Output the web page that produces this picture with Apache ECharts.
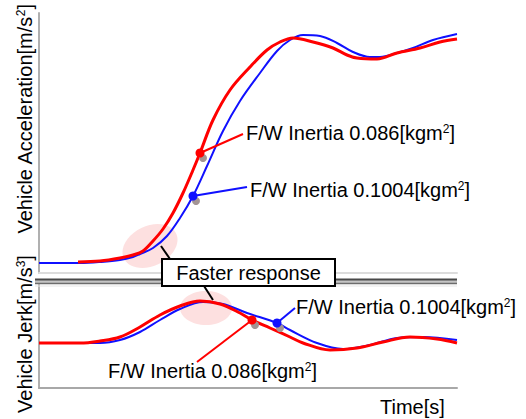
<!DOCTYPE html>
<html>
<head>
<meta charset="utf-8">
<script src="https://cdn.jsdelivr.net/npm/echarts@6/dist/echarts.min.js"></script>
<style>
html, body { margin: 0; padding: 0; background: #fff; }
#chart { width: 526px; height: 419px; }
</style>
</head>
<body>
<div id="chart"></div>
<script>
// time [s] and vehicle acceleration
var accelTimeRed = [0.39, 0.61, 0.81, 0.94, 1.04, 1.14, 1.24, 1.34, 1.44, 1.54, 1.61, 1.74, 1.91, 2.11, 2.28, 2.41, 2.54, 2.74, 2.94, 3.08, 3.18, 3.38, 3.58, 3.81, 4.01, 4.18];
var accelRed     = [0.11, 0.12, 0.15, 0.18, 0.22, 0.32, 0.44, 0.60, 0.80, 1.03, 1.20, 1.53, 1.83, 2.06, 2.23, 2.31, 2.35, 2.31, 2.25, 2.18, 2.15, 2.14, 2.20, 2.25, 2.31, 2.34];
var accelTimeBlue = [0, 0.41, 0.61, 0.81, 0.94, 1.01, 1.14, 1.28, 1.41, 1.54, 1.68, 1.84, 2.01, 2.21, 2.38, 2.51, 2.64, 2.81, 2.98, 3.14, 3.31, 3.41, 3.58, 3.74, 3.94, 4.18];
var accelBlue     = [0.10, 0.10, 0.11, 0.13, 0.16, 0.19, 0.25, 0.37, 0.55, 0.77, 1.07, 1.42, 1.72, 2.00, 2.22, 2.33, 2.38, 2.37, 2.30, 2.21, 2.16, 2.16, 2.20, 2.25, 2.33, 2.39];

// time [s] and vehicle jerk
var jerkTimeRed = [0, 0.41, 0.61, 0.81, 1.01, 1.21, 1.41, 1.61, 1.81, 2.01, 2.13, 2.31, 2.51, 2.64, 2.91, 3.18, 3.44, 3.71, 3.98, 4.18];
var jerkRed     = [0, 0, 0.2, 0.6, 1.6, 2.8, 3.7, 4.2, 3.9, 3.0, 2.3, 1.5, 0.6, 0, -0.7, -0.5, 0.1, 0.6, 0.4, 0];
var jerkTimeBlue = [0, 0.44, 0.61, 0.81, 1.01, 1.21, 1.41, 1.64, 1.84, 2.08, 2.38, 2.51, 2.78, 3.04, 3.31, 3.58, 3.84, 4.18];
var jerkBlue     = [0, 0, 0, 0.3, 1.1, 2.3, 3.4, 4.1, 3.9, 3.0, 2.0, 1.3, 0, -0.6, -0.2, 0.5, 0.6, 0.3];

var labelRed = 'F/W Inertia 0.086[kgm{sup|2}]';
var labelBlue = 'F/W Inertia 0.1004[kgm{sup|2}]';

var RED = '#ff0000';
var BLUE = '#1010ff';
var FONT = '"Liberation Sans", Arial, sans-serif';

function pairs(t, v) {
    return t.map(function (x, i) { return [x, v[i]]; });
}

function hiddenAxis(grid, min, max, line) {
    return {
        gridIndex: grid, type: 'value', min: min, max: max,
        axisLine: { show: !!line, onZero: false, lineStyle: line || {} },
        axisTick: { show: false }, axisLabel: { show: false }, splitLine: { show: false }
    };
}

function lineSeries(grid, data, color, width) {
    return {
        type: 'line', xAxisIndex: grid, yAxisIndex: grid, data: data,
        smooth: 0.35, showSymbol: false, silent: true,
        lineStyle: { color: color, width: width }
    };
}

var chart = echarts.init(document.getElementById('chart'), null, { renderer: 'svg' });

var option = {
    animation: false,
    backgroundColor: '#fff',
    textStyle: { fontFamily: FONT },
    grid: [
        { left: 39, right: 69, top: 13, height: 260 },
        { left: 39, right: 69, top: 285, height: 103 }
    ],
    xAxis: [
        hiddenAxis(0, 0, 4.18, { color: '#dcdcdc', width: 2 }),
        hiddenAxis(1, 0, 4.18, { color: '#a8a8a8', width: 2 })
    ],
    yAxis: [
        hiddenAxis(0, 0, 2.6, { color: '#b0b0b0', width: 2 }),
        hiddenAxis(1, -4.5, 5.8, { color: '#b0b0b0', width: 2 })
    ],
    series: [
        lineSeries(0, pairs(accelTimeBlue, accelBlue), BLUE, 2),
        lineSeries(0, pairs(accelTimeRed, accelRed), RED, 3),
        lineSeries(1, pairs(jerkTimeBlue, jerkBlue), BLUE, 2),
        lineSeries(1, pairs(jerkTimeRed, jerkRed), RED, 3)
    ]
};
chart.setOption(option);

// annotations: which point they mark, where the label sits
var notes = [
    { grid: 0, t: accelTimeRed[10], v: accelRed[10], color: RED, lx: 243, ly: 134, tx: 246, ty: 133, text: labelRed },
    { grid: 0, t: accelTimeBlue[9], v: accelBlue[9], color: BLUE, lx: 247, ly: 187, tx: 250, ty: 190, text: labelBlue },
    { grid: 1, t: jerkTimeRed[10], v: jerkRed[10], color: RED, lx: 197, ly: 362, tx: 108, ty: 371, text: labelRed },
    { grid: 1, t: jerkTimeBlue[10], v: jerkBlue[10], color: BLUE, lx: 295, ly: 308, tx: 296, ty: 307, text: labelBlue }
];

var supRich = { sup: { fontSize: 12, verticalAlign: 'top', fontFamily: FONT } };

var graphics = [];

// highlighted regions ("faster response")
var topSpot = chart.convertToPixel({ gridIndex: 0 }, [1.11, 0.27]);
var lowSpot = chart.convertToPixel({ gridIndex: 1 }, [1.67, 3.5]);
graphics.push({
    type: 'ellipse', x: topSpot[0], y: topSpot[1], rotation: 0.45, z: 0,
    shape: { cx: 0, cy: 0, rx: 29, ry: 20 }, style: { fill: 'rgba(250,165,165,0.35)' }
});
graphics.push({
    type: 'ellipse', z: 0,
    shape: { cx: lowSpot[0], cy: lowSpot[1], rx: 26, ry: 17 }, style: { fill: 'rgba(250,165,165,0.35)' }
});

// separator between the two panels
graphics.push({ type: 'rect', z: 5, shape: { x: 35, y: 279, width: 422, height: 5 }, style: { fill: '#c4c4c4' } });
graphics.push({ type: 'line', z: 5, shape: { x1: 35, y1: 279.5, x2: 457, y2: 279.5 }, style: { stroke: '#484848', lineWidth: 2 } });
graphics.push({ type: 'line', z: 5, shape: { x1: 35, y1: 283.5, x2: 457, y2: 283.5 }, style: { stroke: '#6c6c6c', lineWidth: 1.5 } });
graphics.push({ type: 'line', z: 5, shape: { x1: 35, y1: 286, x2: 457, y2: 286 }, style: { stroke: '#e6e6e6', lineWidth: 1 } });

// "Faster response" callout
graphics.push({ type: 'line', z: 6, shape: { x1: 161, y1: 246, x2: 170, y2: 259 }, style: { stroke: '#000', lineWidth: 2 } });
graphics.push({ type: 'line', z: 6, shape: { x1: 204, y1: 286, x2: 213, y2: 300 }, style: { stroke: '#000', lineWidth: 2 } });
graphics.push({ type: 'rect', z: 7, shape: { x: 162, y: 259, width: 173, height: 27 }, style: { fill: '#fff', stroke: '#000', lineWidth: 2 } });
graphics.push({
    type: 'text', z: 8, x: 248.5, y: 273,
    style: { text: 'Faster response', fill: '#000', fontSize: 20, fontFamily: FONT, align: 'center', verticalAlign: 'middle' }
});

notes.forEach(function (n) {
    var p = chart.convertToPixel({ gridIndex: n.grid }, [n.t, n.v]);
    graphics.push({ type: 'circle', z: 20, shape: { cx: p[0] + 3, cy: p[1] + 5, r: 4 }, style: { fill: '#a39494' } });
    graphics.push({ type: 'line', z: 21, shape: { x1: p[0], y1: p[1], x2: n.lx, y2: n.ly }, style: { stroke: n.color, lineWidth: 2 } });
    graphics.push({ type: 'circle', z: 22, shape: { cx: p[0], cy: p[1], r: 4.5 }, style: { fill: n.color } });
    graphics.push({
        type: 'text', z: 22, x: n.tx, y: n.ty,
        style: { text: n.text, fill: '#000', fontSize: 20, fontFamily: FONT, align: 'left', verticalAlign: 'middle', rich: supRich }
    });
});

// axis titles
graphics.push({
    type: 'text', z: 10, x: 25, y: 119, rotation: Math.PI / 2,
    style: { text: 'Vehicle Acceleration[m/s{sup|2}]', fill: '#000', fontSize: 20, fontFamily: FONT, align: 'center', verticalAlign: 'middle', rich: supRich }
});
graphics.push({
    type: 'text', z: 10, x: 25, y: 334, rotation: Math.PI / 2,
    style: { text: 'Vehicle Jerk[m/s{sup|3}]', fill: '#000', fontSize: 20, fontFamily: FONT, align: 'center', verticalAlign: 'middle', rich: supRich }
});
graphics.push({
    type: 'text', z: 10, x: 380, y: 407,
    style: { text: 'Time[s]', fill: '#000', fontSize: 20, fontFamily: FONT, align: 'left', verticalAlign: 'middle' }
});

chart.setOption({ graphic: { elements: graphics } });
</script>
</body>
</html>
